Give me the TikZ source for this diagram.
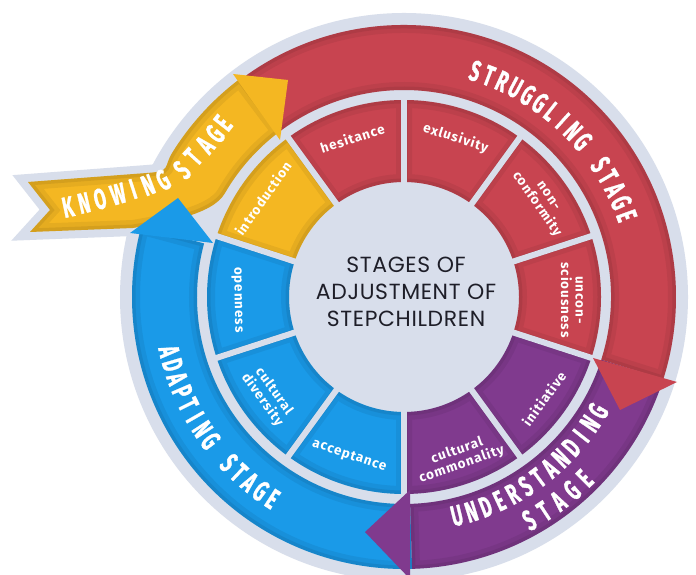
\documentclass[tikz,border=0pt]{standalone}
\usepackage{fontspec}
\usepackage{graphicx}
\newfontfamily\ctrfont[LetterSpace=3]{Poppins}
\newfontfamily\segfont[LetterSpace=7]{Fira Sans}
\newfontfamily\stgfont[BoldFeatures={FakeBold=1.5}]{Fira Sans}
\definecolor{bgray}{RGB}{216,222,235}
\definecolor{cred}{RGB}{200,68,80}
\definecolor{cyel}{RGB}{244,183,34}
\definecolor{cblue}{RGB}{26,154,232}
\definecolor{cpur}{RGB}{128,58,142}
\definecolor{ctext}{RGB}{30,30,40}
\tikzset{
  seglab/.style={text=white, font=\segfont\bfseries\fontsize{13.5}{14.5}\selectfont, align=center, inner sep=0pt},
  stglab/.style={text=white, inner sep=0pt, font=\stgfont\bfseries\fontsize{29}{29}\selectfont},
  shade1/.style={draw=black, draw opacity=0.06, line width=16bp},
  shade2/.style={draw=black, draw opacity=0.07, line width=7bp},
}
\newcommand\annp[4]{(#1:#3) -- (#1:#4) arc[start angle=#1, end angle=#2, radius=#4] -- (#2:#3) arc[start angle=#2, end angle=#1, radius=#3] -- cycle}
\newcommand\annseg[5]{%
  \fill[#1] \annp{#2}{#3}{#4}{#5};
  \begin{scope}
    \clip \annp{#2}{#3}{#4}{#5};
    \path[shade1] \annp{#2}{#3}{#4}{#5};
    \path[shade2] \annp{#2}{#3}{#4}{#5};
  \end{scope}}
\newcommand\arctext[6]{%
  \foreach \ch [count=\k] in {#6} {
    \pgfmathsetmacro\ang{#2+(\k-1)*(#3)}
    \pgfmathsetmacro\rot{\ang+(#5)}
    \node[stglab, rotate=\rot] (#1\k) at (\ang:#4) {\scalebox{0.6}[1]{\ch}};
  }}
\begin{document}
\begin{tikzpicture}[x=1bp, y=1bp]
\useasboundingbox (0,0) rectangle (696,575);
\clip (0,0) rectangle (696,575);
\fill[white] (0,0) rectangle (696,575);
\begin{scope}[shift={(404,278)}]
  % background disc
  \fill[bgray] (0,0) circle[radius=284bp];
  % yellow ribbon path
  \def\ribbon{(127:207bp) -- (127:273bp) arc[start angle=127, end angle=148, radius=273bp]
     .. controls +(238:18) and +(4:25) .. (-257,124) -- (-376,115) -- (-354,87) -- (-374,65) -- (-271,69)
     .. controls +(10:30) and +(240:25) .. (150:207bp) arc[start angle=150, end angle=127, radius=207bp] -- cycle}
  \draw[bgray, line width=16bp, line join=miter] \ribbon;
  % inner segments
  \annseg{cyel}{126}{162}{115bp}{197bp}
  \annseg{cred}{90}{126}{115bp}{197bp}
  \annseg{cred}{54}{90}{115bp}{197bp}
  \annseg{cred}{18}{54}{115bp}{197bp}
  \annseg{cred}{-18}{18}{115bp}{197bp}
  \annseg{cpur}{-54}{-18}{115bp}{197bp}
  \annseg{cpur}{-90}{-54}{115bp}{197bp}
  \annseg{cblue}{-126}{-90}{115bp}{197bp}
  \annseg{cblue}{-162}{-126}{115bp}{197bp}
  \annseg{cblue}{162}{198}{115bp}{197bp}
  \foreach \a in {90,54,18,-18,-54,-90,-126,-162,162,126}
    \draw[bgray, line width=6bp] (\a:110bp) -- (\a:200bp);
  % outer ring bodies
  \annseg{cblue}{-88.3}{-195}{207bp}{272bp}
  \annseg{cpur}{-17.6}{-88.3}{207bp}{272bp}
  \annseg{cred}{128}{-17.6}{207bp}{272bp}
  \fill[cyel] \ribbon;
  \begin{scope}
    \clip \ribbon;
    \path[shade1] \ribbon;
    \path[shade2] \ribbon;
  \end{scope}
  % arrowheads
  \fill[cyel] (-171,223) -- (-116,217) -- (-124,157) -- cycle;
  \fill[cred] (189,-61) -- (273,-85) -- (216,-113) -- cycle;
  \fill[cpur] (6,-193) -- (-39,-235) -- (6,-282) -- cycle;
  \fill[cblue] (-274,64) -- (-226,99) -- (-191,54) -- cycle;
  % title
  \node[font=\ctrfont\fontsize{22}{27}\selectfont, text=ctext, align=center] (title) at (2,5)
    {STAGES OF\\ADJUSTMENT OF\\STEPCHILDREN};
  % segment labels
  \node[seglab, rotate=55] (lint) at (145:172bp) {introduction};
  \node[seglab, rotate=18] (lhes) at (108:167bp) {hesitance};
  \node[seglab, rotate=-18] (lexl) at (72:167bp) {exlusivity};
  \node[seglab, rotate=-55] (lnon) at (35:168bp) {non-\\conformity};
  \node[seglab, rotate=-90] (lunc) at (-1:168bp) {uncon-\\sciousness};
  \node[seglab, rotate=54] (lini) at (-36:173bp) {initiative};
  \node[seglab, rotate=19] (lcom) at (-71:170bp) {cultural\\commonality};
  \node[seglab, rotate=-19] (lacc) at (-109:168bp) {acceptance};
  \node[seglab, rotate=-54] (ldiv) at (-144:168bp) {cultural\\diversity};
  \node[seglab, rotate=-89] (lope) at (181:167bp) {openness};
  % stage labels
  \arctext{st}{72.5}{-3.5}{237bp}{-90}{S,T,R,U,G,G,L,I,N,G,{},S,T,A,G,E}
  \arctext{un}{-76.4}{3.83}{225bp}{90}{U,N,D,E,R,S,T,A,N,D,I,N,G}
  \arctext{us}{-60.7}{3.9}{256bp}{90}{S,T,A,G,E}
  \arctext{ad}{-167}{3.38}{241bp}{90}{A,D,A,P,T,I,N,G,{},S,T,A,G,E}
  \foreach \ch/\x/\y/\r [count=\k] in {K/-336/90/12, N/-320/94/13, O/-304/98/14, W/-286/103/16,
      I/-271/108/18, N/-256/112/21, G/-241/117/28, S/-222/127/45, T/-211/140/48, A/-199/152/50,
      G/-189/163/50, E/-181/174/52}
    \node[stglab, rotate=\r] (kn\k) at (\x,\y) {\scalebox{0.6}[1]{\ch}};
\end{scope}
\end{tikzpicture}
\end{document}
